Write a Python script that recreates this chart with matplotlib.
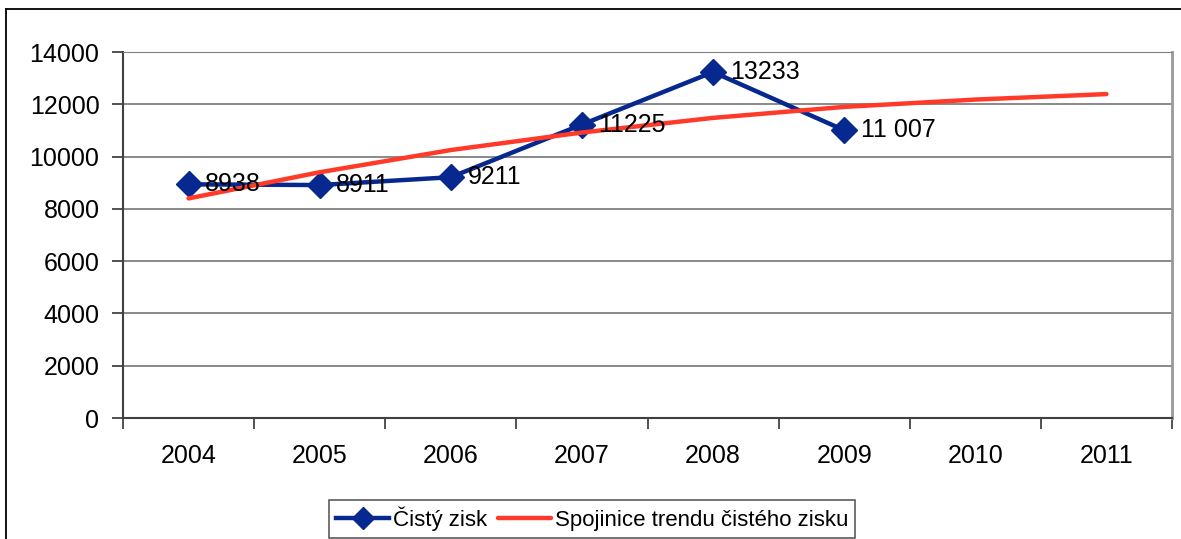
import matplotlib.pyplot as plt
from matplotlib.lines import Line2D

plt.rcParams['font.family'] = ['Liberation Sans', 'DejaVu Sans']

years = ['2004', '2005', '2006', '2007', '2008', '2009', '2010', '2011']
zisk = [8938, 8911, 9211, 11225, 13233, 11007]
zisk_labels = ['8938', '8911', '9211', '11225', '13233', '11 007']
# trend values at each year
trend = [8400, 9400, 10250, 10920, 11480, 11900, 12180, 12390]

fig = plt.figure(figsize=(11.81, 5.39), dpi=100)
ax = fig.add_axes([123 / 1181, 121 / 539, 1049 / 1181, 366 / 539])

# gridlines
for v in range(2000, 14001, 2000):
    ax.axhline(v, color='#808080', lw=1.3, zorder=1)

x_z = list(range(len(zisk)))
x_t = list(range(len(trend)))
ax.plot(x_z, zisk, color='#06288f', lw=3.2, marker='D', ms=13, zorder=3,
        label='Čistý zisk')
ax.plot(x_t, trend, color='#ff3a28', lw=3.2, solid_capstyle='round',
        solid_joinstyle='round', zorder=4, label='Spojinice trendu čistého zisku')

for x, y, s in zip(x_z, zisk, zisk_labels):
    ax.annotate(s, (x, y), xytext=(12, 0), textcoords='offset points',
                ha='left', va='center', fontsize=18, zorder=5)

ax.set_xlim(-0.5, 7.5)
ax.set_ylim(0, 14000)
ax.set_yticks(range(0, 14001, 2000))
ax.set_xticks([i - 0.5 for i in range(9)])
ax.set_xticklabels([])
ax.set_xticks(range(len(years)), minor=True)
ax.set_xticklabels(years, minor=True)
ax.tick_params(axis='x', which='major', direction='out', length=8, width=1.2, color='#333333')
ax.tick_params(axis='x', which='minor', length=0, pad=19, labelsize=18)
ax.tick_params(axis='y', direction='out', length=8, width=1.2, color='#333333', pad=9, labelsize=18)

ax.spines['left'].set_color('#404040')
ax.spines['left'].set_linewidth(1.5)
ax.spines['bottom'].set_color('#404040')
ax.spines['bottom'].set_linewidth(1.5)
ax.spines['top'].set_color('#808080')
ax.spines['right'].set_color('#999999')
ax.spines['right'].set_linewidth(2)

leg = fig.legend(loc='center', bbox_to_anchor=(592 / 1181, 20 / 539), ncol=2,
                 fontsize=16, frameon=True, fancybox=False, edgecolor='#333333',
                 handlelength=2.4, handletextpad=0.15, columnspacing=0.5,
                 borderpad=0.3, borderaxespad=0, markerscale=0.85)
leg.get_frame().set_linewidth(1.2)

# outer chart border (left and top visible)
fig.add_artist(Line2D([6 / 1181, 6 / 1181], [0, 1 - 9 / 539], color='black', lw=1.3,
                      transform=fig.transFigure))
fig.add_artist(Line2D([6 / 1181, 1], [1 - 9 / 539, 1 - 9 / 539], color='black', lw=1.3,
                      transform=fig.transFigure))

fig.savefig('out.png', dpi=100)
